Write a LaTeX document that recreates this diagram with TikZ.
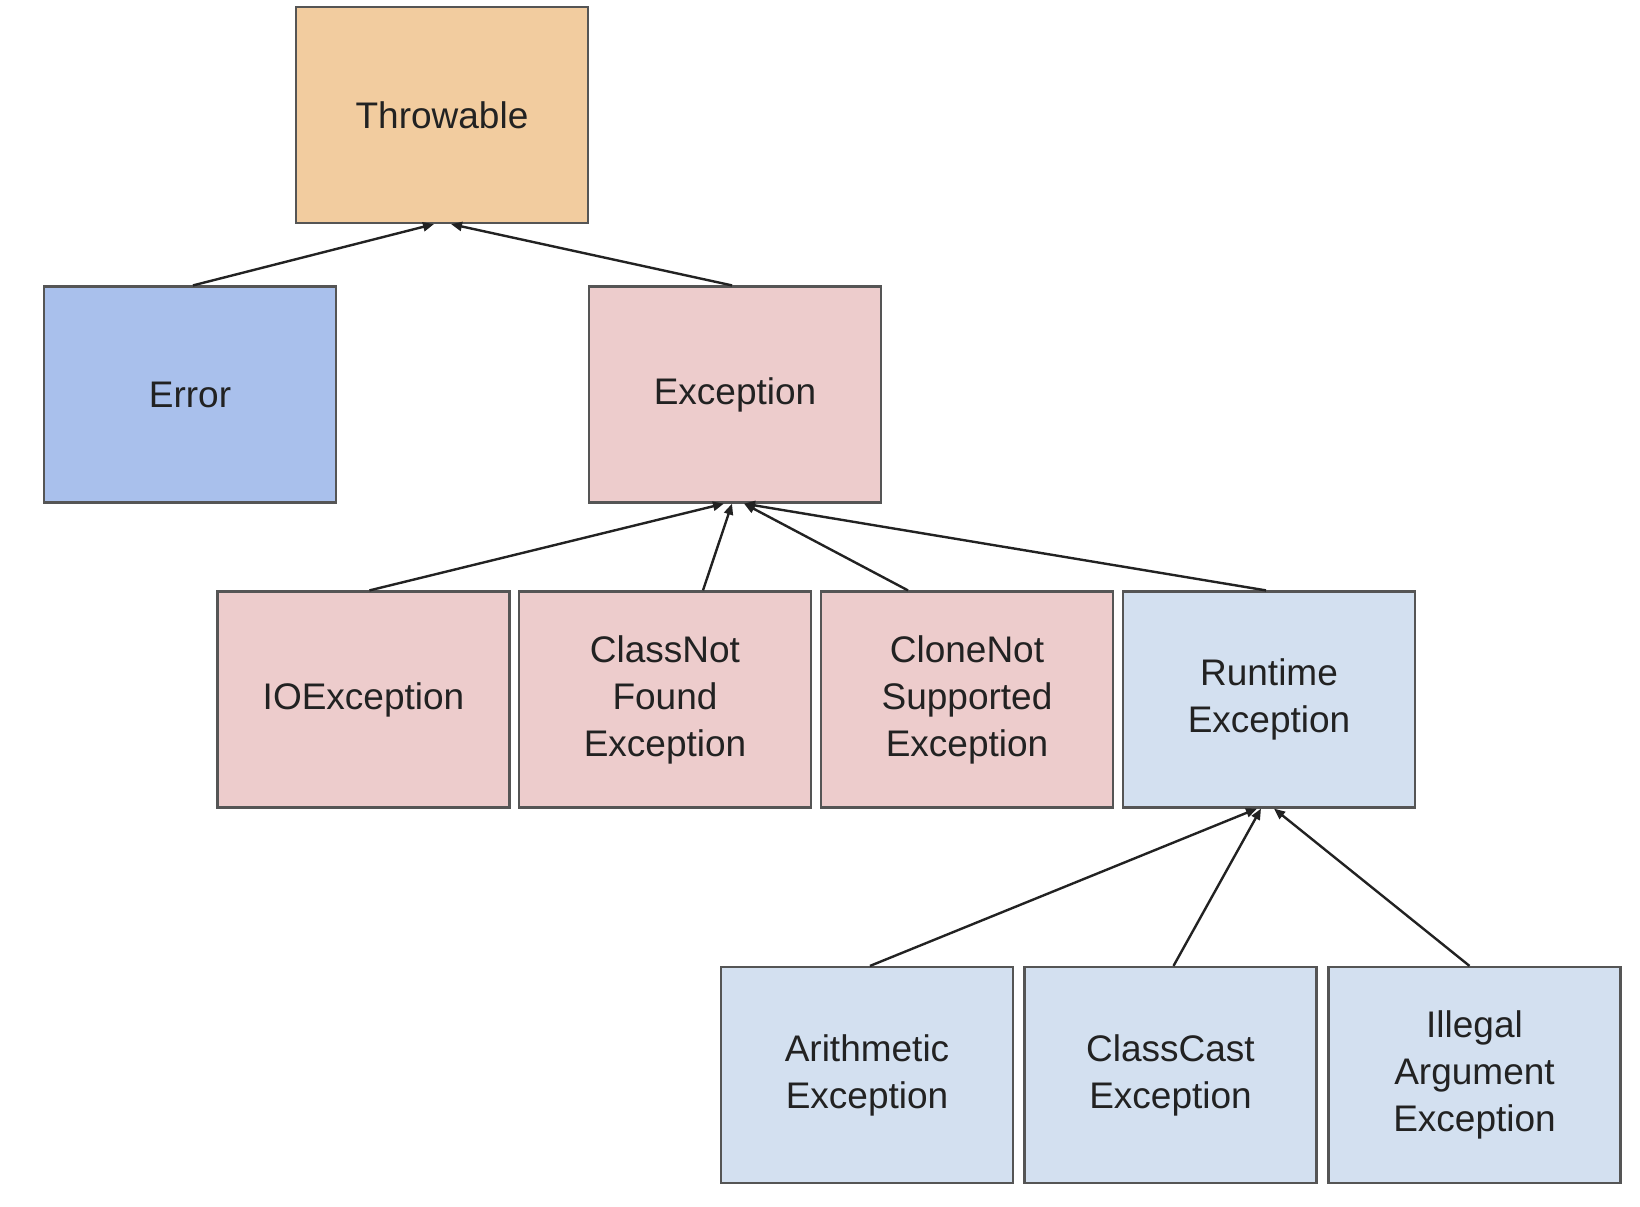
\documentclass[tikz,border=0pt]{standalone}
\usepackage{fontspec}
\setmainfont{Liberation Sans}
\usetikzlibrary{arrows.meta}
\definecolor{throwfill}{HTML}{F2CC9F}
\definecolor{errfill}{HTML}{A9C0EC}
\definecolor{excfill}{HTML}{EDCCCC}
\definecolor{rtfill}{HTML}{D3E0F0}
\definecolor{boxline}{HTML}{555555}
\definecolor{txt}{HTML}{222222}
\begin{document}
\begin{tikzpicture}[x=0.5pt,y=-0.5pt]
\tikzstyle{cls}=[rectangle, draw=boxline, line width=1.1pt, inner sep=0pt, minimum width=146pt, minimum height=108pt, align=center, text=txt, font=\fontsize{18.5}{23.5}\selectfont]
\tikzstyle{every node}=[cls]
\tikzstyle{sub}=[-{Triangle[length=5.5pt,width=4.5pt]}, line width=1.2pt, draw=txt]
\useasboundingbox (0,0) rectangle (1640,1206);

\node[fill=throwfill] (thr) at (442,115) {Throwable};
\node[fill=errfill] (err) at (190,394.5) {Error};
\node[fill=excfill] (exc) at (735,394.5) {Exception};
\node[fill=excfill] (ioe) at (363.5,699.5) {IOException};
\node[fill=excfill] (cnf) at (665,699.5) {ClassNot\\Found\\Exception};
\node[fill=excfill] (cns) at (967,699.5) {CloneNot\\Supported\\Exception};
\node[fill=rtfill] (rte) at (1269,699.5) {Runtime\\Exception};
\node[fill=rtfill] (ari) at (867,1075) {Arithmetic\\Exception};
\node[fill=rtfill] (cce) at (1170.5,1075) {ClassCast\\Exception};
\node[fill=rtfill] (iae) at (1474.5,1075) {Illegal\\Argument\\Exception};

\draw[sub] ([xshift=1.5pt]err.north) -- ([xshift=-4pt]thr.south);
\draw[sub] ([xshift=-1.5pt]exc.north) -- ([xshift=4.5pt]thr.south);
\draw[sub] ([xshift=3pt]ioe.north) -- ([xshift=-5.5pt]exc.south);
\draw[sub] ([xshift=19pt]cnf.north) -- ([xshift=-1.5pt]exc.south);
\draw[sub] ([xshift=-29.5pt]cns.north) -- ([xshift=4.5pt]exc.south);
\draw[sub] ([xshift=-1.5pt]rte.north) -- ([xshift=4.5pt]exc.south);
\draw[sub] ([xshift=1.5pt]ari.north) -- ([xshift=-6pt]rte.south);
\draw[sub] ([xshift=1.5pt]cce.north) -- ([xshift=-4pt]rte.south);
\draw[sub] ([xshift=-2.5pt]iae.north) -- ([xshift=2.5pt]rte.south);
\end{tikzpicture}
\end{document}
